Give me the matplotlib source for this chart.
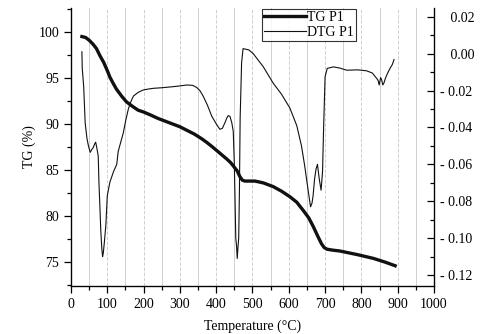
import matplotlib.pyplot as plt
import numpy as np
from matplotlib.ticker import MultipleLocator, FuncFormatter

plt.rcParams['font.family'] = ['Liberation Serif', 'DejaVu Serif']

# TG curve (left axis, %)
tg_t = np.array([30, 40, 50, 60, 70, 80, 90, 100, 107, 115, 125, 140, 153, 170, 185, 200, 218,
                 240, 260, 280, 300, 320, 340, 360, 374, 390, 405, 420, 429, 440, 448,
                 452, 458, 465, 472, 479, 507, 530, 557, 580, 603, 622, 640, 655, 667, 680, 690,
                 697, 705, 720, 741, 790, 833, 865, 893])
tg_v = np.array([99.5, 99.4, 99.1, 98.7, 98.2, 97.4, 96.7, 95.8, 95.1, 94.5, 93.8, 93.0, 92.4,
                 91.9, 91.5, 91.3, 91.0, 90.6, 90.3, 90.0, 89.7, 89.3, 88.9, 88.4, 88.0, 87.5,
                 87.0, 86.5, 86.2, 85.8, 85.4, 85.2, 84.9, 84.3, 83.9, 83.8, 83.8, 83.6, 83.2,
                 82.7, 82.1, 81.5, 80.6, 79.8, 78.9, 77.8, 77.0, 76.6, 76.4, 76.3, 76.2, 75.8,
                 75.4, 75.0, 74.6])

# DTG curve (right axis)
dtg_t = np.array([30, 31, 35, 39, 44, 48, 53, 57, 61, 65, 68, 72, 75, 77, 80, 82, 85, 87, 89,
                  92, 96, 100, 107, 117, 126, 130, 137, 144, 151, 158, 165, 172, 185, 199, 213,
                  227, 250, 282, 300, 319, 335, 346, 355, 364, 376, 388, 400, 410, 417, 424, 429,
                  433, 438, 443, 447, 450, 452, 454, 456, 458, 460, 462, 464, 466, 470, 474, 490,
                  502, 530, 557, 580, 603, 622, 635, 644, 654, 660, 664, 667, 671, 675, 679, 684,
                  689, 693, 696, 700, 706, 723, 740, 760, 790, 814, 830, 842, 846, 849, 853, 856,
                  859, 862, 866, 870, 875, 879, 885, 890])
dtg_v = np.array([0.001, -0.008, -0.018, -0.0375, -0.046, -0.050, -0.0535, -0.052, -0.051,
                  -0.049, -0.048, -0.052, -0.0555, -0.070, -0.085, -0.0957, -0.106, -0.110,
                  -0.108, -0.102, -0.093, -0.077, -0.0697, -0.064, -0.060, -0.053, -0.048,
                  -0.043, -0.036, -0.030, -0.026, -0.023, -0.021, -0.0197, -0.0192, -0.0188,
                  -0.0185, -0.0179, -0.0175, -0.017, -0.0172, -0.0183, -0.020, -0.023, -0.028,
                  -0.034, -0.038, -0.041, -0.0405, -0.0375, -0.035, -0.0336, -0.034, -0.0375,
                  -0.042, -0.060, -0.080, -0.100, -0.104, -0.111, -0.105, -0.100, -0.075,
                  -0.035, -0.005, 0.0027, 0.002, 0.0, -0.0072, -0.016, -0.022, -0.0295, -0.039,
                  -0.050, -0.061, -0.075, -0.083, -0.081, -0.077, -0.068, -0.0626, -0.060,
                  -0.068, -0.074, -0.064, -0.040, -0.0125, -0.008, -0.0072, -0.0078, -0.009,
                  -0.0088, -0.0093, -0.0105, -0.0134, -0.0145, -0.017, -0.013, -0.0143, -0.017,
                  -0.016, -0.0135, -0.0116, -0.0095, -0.008, -0.006, -0.0032])

fig = plt.figure(figsize=(4.87, 3.34), dpi=100)
ax = fig.add_axes([0.1458, 0.1437, 0.7453, 0.8323])
ax2 = ax.twinx()

# vertical grid: solid at odd 50s, dashed at 100s
for x in range(50, 1000, 50):
    ls = '--' if x % 100 == 0 else '-'
    ax.axvline(x, color='#d0d0d0', lw=0.7, ls=ls, zorder=0)

l1, = ax.plot(tg_t, tg_v, color='#111111', lw=2.4, label='TG P1')
l2, = ax2.plot(dtg_t, dtg_v, color='#111111', lw=0.8, label='DTG P1')

ax.set_xlim(0, 1000)
ax.set_ylim(72.4, 102.6)
ax2.set_ylim(-0.1259, 0.0247)

ax.xaxis.set_major_locator(MultipleLocator(100))
ax.xaxis.set_minor_locator(MultipleLocator(50))
ax.yaxis.set_major_locator(MultipleLocator(5))
ax.yaxis.set_minor_locator(MultipleLocator(2.5))
ax2.yaxis.set_major_locator(MultipleLocator(0.02))
ax2.yaxis.set_minor_locator(MultipleLocator(0.01))

def dtg_fmt(v, pos):
    if v < -1e-9:
        return '- %.2f' % abs(v)
    return '\u2002 %.2f' % abs(v)

ax2.yaxis.set_major_formatter(FuncFormatter(dtg_fmt))

ax.tick_params(axis='both', which='major', direction='out', length=5, width=0.9, labelsize=10)
ax.tick_params(axis='both', which='minor', direction='out', length=3, width=0.9)
ax2.tick_params(axis='y', which='major', direction='in', length=5, width=0.9, labelsize=10, pad=4)
ax2.tick_params(axis='y', which='minor', direction='in', length=3, width=0.9)

ax.spines['top'].set_visible(False)
ax2.spines['top'].set_visible(False)
for s in ['left', 'bottom']:
    ax.spines[s].set_linewidth(0.9)
ax2.spines['right'].set_linewidth(0.9)

ax.set_xlabel('Temperature (°C)', fontsize=10, labelpad=6)
ax.set_ylabel('TG (%)', fontsize=10, labelpad=2)

leg = fig.legend([l1, l2], ['TG P1', 'DTG P1'], loc='upper left',
                 bbox_to_anchor=(262 / 487, 1 - 9 / 334), fontsize=10, frameon=True,
                 fancybox=False, edgecolor='black', borderpad=0.15, handlelength=3.0,
                 handletextpad=0.1, labelspacing=0.15, borderaxespad=0)
leg.get_frame().set_linewidth(0.8)

fig.savefig('out.png', dpi=100)
